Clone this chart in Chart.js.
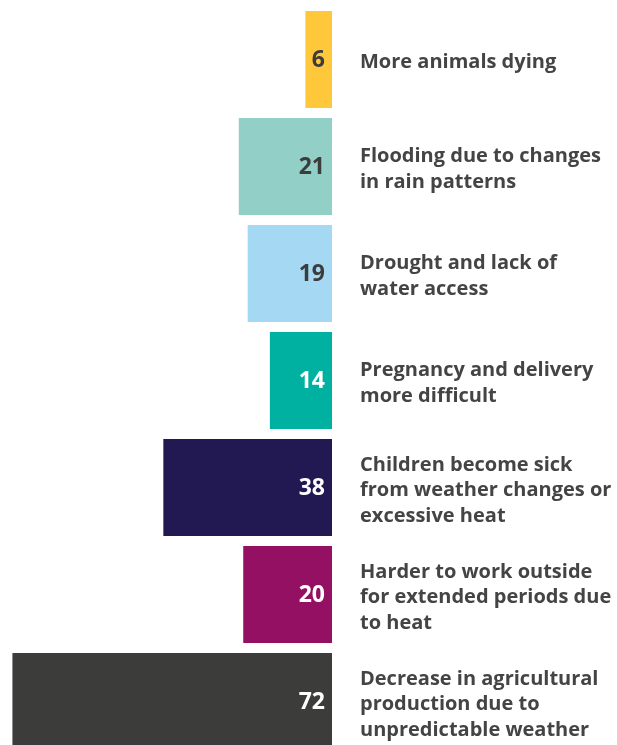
<!DOCTYPE html>
<html>
<head>
<meta charset="utf-8">
<script src="https://cdn.jsdelivr.net/npm/chart.js@4"></script>
<style>
  html, body { margin: 0; padding: 0; background: #fff; overflow: hidden; }
  canvas { display: block; }
</style>
</head>
<body>
<canvas id="impactChart" width="617" height="755"></canvas>
<script>
const categories = [
    ["More animals dying"],
    ["Flooding due to changes", "in rain patterns"],
    ["Drought and lack of", "water access"],
    ["Pregnancy and delivery", "more difficult"],
    ["Children become sick", "from weather changes or", "excessive heat"],
    ["Harder to work outside", "for extended periods due", "to heat"],
    ["Decrease in agricultural", "production due to", "unpredictable weather"],
];
const values = [6, 21, 19, 14, 38, 20, 72];

const barColors = ["#FFC83A", "#91CFC7", "#A5D8F3", "#00B0A0", "#221852", "#931063", "#3C3C3B"];
const valueColors = ["#3C3C3B", "#3C3C3B", "#3C3C3B", "#ffffff", "#ffffff", "#ffffff", "#ffffff"];

const valueLabels = {
    id: "valueLabels",
    afterDatasetsDraw(chart) {
        const ctx = chart.ctx;
        const meta = chart.getDatasetMeta(0);
        ctx.save();
        ctx.font = "bold 23px 'Open Sans', sans-serif";
        ctx.textAlign = "right";
        ctx.textBaseline = "middle";
        meta.data.forEach((bar, i) => {
            ctx.fillStyle = valueColors[i];
            ctx.fillText(String(values[i]), bar.base - 7, bar.y + 1);
        });
        ctx.restore();
    },
};

let ctx = document.getElementById("impactChart").getContext("2d");
let impactChart = new Chart(ctx, {
    type: "bar",
    data: {
        labels: categories,
        datasets: [
            {
                data: values,
                backgroundColor: barColors,
                barPercentage: 0.907,
                categoryPercentage: 1,
            },
        ],
    },
    options: {
        indexAxis: "y",
        responsive: false,
        animation: false,
        layout: { padding: { top: 6, bottom: 0, left: 0, right: 0 } },
        plugins: {
            legend: { display: false },
            tooltip: { enabled: false },
        },
        scales: {
            x: {
                display: false,
                reverse: true,
                min: 0,
                max: 74.8,
            },
            y: {
                position: "right",
                grid: { display: false, drawTicks: false },
                border: { display: false },
                ticks: {
                    color: "#444444",
                    padding: 28,
                    labelOffset: 3,
                    font: { family: "'Open Sans', sans-serif", size: 20, weight: "bold", lineHeight: 1.28 },
                },
                afterFit(axis) {
                    axis.width = 285;
                    axis.paddingTop = 0;
                    axis.paddingBottom = 0;
                },
            },
        },
    },
    plugins: [valueLabels],
});
</script>
</body>
</html>
